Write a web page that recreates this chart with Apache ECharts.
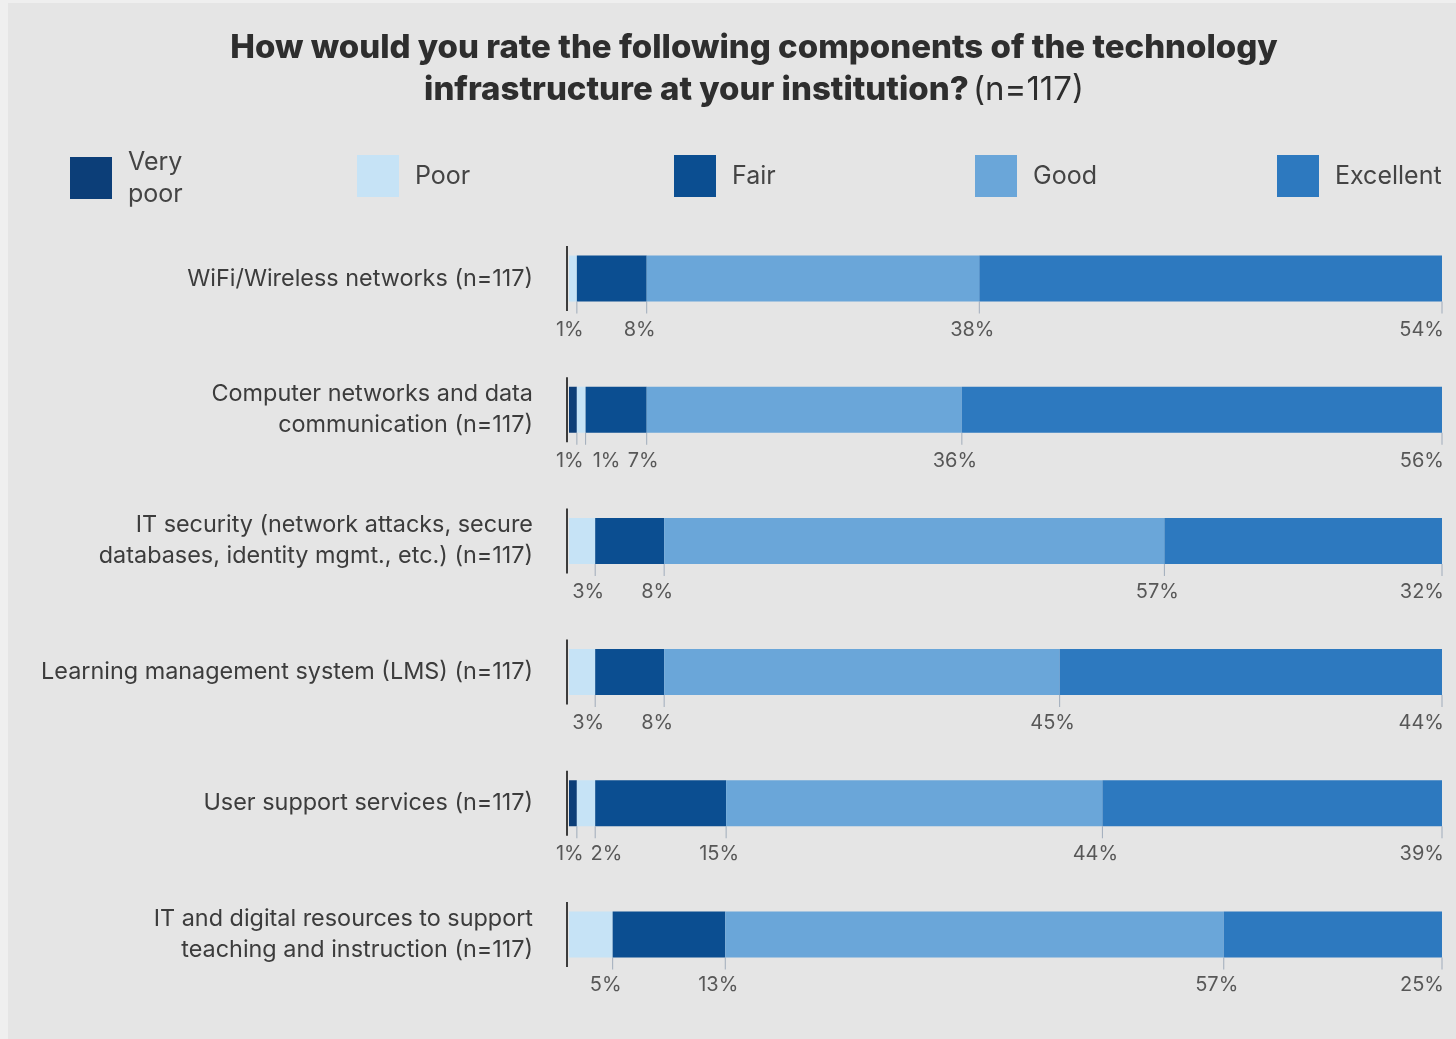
<!DOCTYPE html>
<html>
<head>
<meta charset="utf-8">
<script src="https://cdn.jsdelivr.net/npm/echarts@6/dist/echarts.min.js"></script>
<style>
html,body{margin:0;padding:0;background:#efefef;}
#chart{width:1456px;height:1039px;}
</style>
</head>
<body>
<div id="chart"></div>
<script>
const categories = [
  'WiFi/Wireless networks (n=117)',
  'Computer networks and data\ncommunication (n=117)',
  'IT security (network attacks, secure\ndatabases, identity mgmt., etc.) (n=117)',
  'Learning management system (LMS) (n=117)',
  'User support services (n=117)',
  'IT and digital resources to support\nteaching and instruction (n=117)'
];
const seriesNames = ['Very poor', 'Poor', 'Fair', 'Good', 'Excellent'];
const colors = ['#0c3e78', '#c6e3f6', '#0b4e91', '#6aa6d9', '#2d79bf'];

const veryPoor  = [0,    0.9,  0,    0,    0.9,  0];
const poor      = [0.9,  1.0,  3.0,  3.0,  2.1,  5.0];
const fair      = [8.0,  7.0,  7.9,  7.9,  15.0, 12.9];
const good      = [38.1, 36.1, 57.3, 45.3, 43.1, 57.1];
const excellent = [53.0, 55.0, 31.8, 43.8, 38.9, 25.0];

const veryPoorLabels  = ['',    '1%',  '',    '',    '1%',  ''];
const poorLabels      = ['1%',  '1%',  '3%',  '3%',  '2%',  '5%'];
const fairLabels      = ['8%',  '7%',  '8%',  '8%',  '15%', '13%'];
const goodLabels      = ['38%', '36%', '57%', '45%', '44%', '57%'];
const excellentLabels = ['54%', '56%', '32%', '44%', '39%', '25%'];

const values = [veryPoor, poor, fair, good, excellent];
const labels = [veryPoorLabels, poorLabels, fairLabels, goodLabels, excellentLabels];

const FONT = 'Inter, "Noto Sans", sans-serif';

// tick marks and value labels under each bar, positioned by the stacked ends
const tickData = [];
const labelData = [];
categories.forEach((c, r) => {
  let cum = 0;
  let prev = -100;
  values.forEach((arr, s) => {
    const v = arr[r];
    cum += v;
    if (v > 0) tickData.push([cum, r]);
    const txt = labels[s][r];
    if (!txt) return;
    if (s === values.length - 1) {
      labelData.push({ value: [cum, r], txt: txt, label: { align: 'right', offset: [2, 51] } });
    } else {
      const x = Math.max(cum - 0.8, prev + 4.2);
      prev = x;
      labelData.push({ value: [x, r], txt: txt });
    }
  });
});

const barSeries = seriesNames.map((name, i) => ({
  name: name,
  type: 'bar',
  stack: 'total',
  barWidth: 46,
  itemStyle: { color: colors[i] },
  data: values[i],
  emphasis: { disabled: true }
}));

const legendLefts = [70, 357, 674, 975, 1277];
const legends = seriesNames.map((name, i) => ({
  data: [name],
  left: legendLefts[i],
  top: i === 0 ? 144 : 155,
  padding: 0,
  itemWidth: 42,
  itemHeight: 42,
  icon: 'rect',
  selectedMode: false,
  formatter: n => n === 'Very poor' ? 'Very\npoor' : n,
  textStyle: { fontFamily: FONT, fontSize: 25, color: '#444', lineHeight: 32, padding: [4, 0, 0, 11] }
}));

const chart = echarts.init(document.getElementById('chart'));
chart.setOption({
  backgroundColor: '#efefef',
  animation: false,
  graphic: [{
    type: 'rect', z: -10, silent: true,
    shape: { x: 8, y: 3, width: 1448, height: 1036 },
    style: { fill: '#e5e5e5' }
  }],
  title: {
    left: 754,
    top: 27,
    textAlign: 'center',
    padding: 0,
    text: '{b|How would you rate the following components of the technology}\n{b|infrastructure at your institution?} {n|(n=117)}',
    textStyle: {
      fontFamily: FONT,
      rich: {
        b: { fontFamily: FONT, fontSize: 33, fontWeight: 800, color: '#2e2e2e', lineHeight: 42 },
        n: { fontFamily: FONT, fontSize: 33, fontWeight: 'normal', color: '#2e2e2e', lineHeight: 42 }
      }
    }
  },
  legend: legends,
  grid: { left: 569, right: 14, top: 213, bottom: 39, containLabel: false },
  xAxis: { type: 'value', min: 0, max: 100, show: false },
  yAxis: {
    type: 'category',
    data: categories,
    inverse: true,
    axisLine: { show: false },
    axisTick: { show: false },
    splitLine: { show: false },
    axisLabel: { fontFamily: FONT, fontSize: 23.4, color: '#3c3c3c', margin: 36, lineHeight: 31, align: 'right' }
  },
  series: barSeries.concat([
    {
      name: 'axisline', type: 'scatter', symbol: 'rect', symbolSize: [2, 65], symbolOffset: [-2, 0],
      itemStyle: { color: '#111' }, data: categories.map((c, r) => [0, r]), z: 5, silent: true
    },
    {
      name: 'ticks', type: 'scatter', symbol: 'rect', symbolSize: [1, 12], symbolOffset: [0, 29],
      itemStyle: { color: '#8e9db0' }, data: tickData, z: 5, silent: true
    },
    {
      name: 'labels', type: 'scatter', symbolSize: 1, itemStyle: { color: 'rgba(0,0,0,0)' },
      data: labelData, z: 6, silent: true,
      label: {
        show: true, position: 'inside', offset: [0, 51],
        formatter: p => p.data.txt,
        fontFamily: FONT, fontSize: 20, color: '#333'
      }
    }
  ])
});
</script>
</body>
</html>
